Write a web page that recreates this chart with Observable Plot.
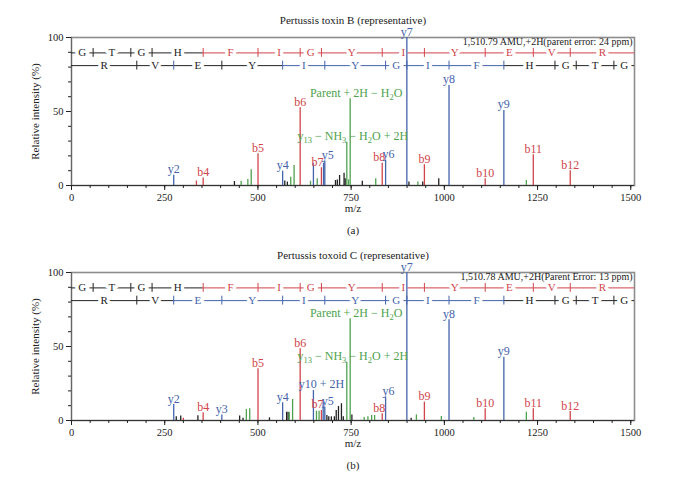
<!DOCTYPE html>
<html><head><meta charset="utf-8">
<script src="https://cdn.jsdelivr.net/npm/d3@7"></script>
<script src="https://cdn.jsdelivr.net/npm/@observablehq/plot@0.6"></script>
<style>
body{margin:0;background:#fff;width:682px;height:478px;overflow:hidden}
#chart svg{display:block}
</style></head><body><div id="chart"></div>
<script>
// ---------- data ----------
const sequence = ["G","T","G","H","F","I","G","Y","I","Y","E","V","R"];
const bIonMz = [58.03,159.08,216.10,353.16,500.22,613.31,670.33,833.39,946.48,1109.54,1238.58,1337.65];
const yIonMz = [175.12,274.19,403.23,566.30,679.38,842.44,899.46,1012.55,1159.62,1296.68,1353.70,1454.75];
const xTicks = [0,250,500,750,1000,1250,1500];
const yTicks = [0,50,100];
const titles = ["Pertussis toxin B (representative)", "Pertussis toxoid C (representative)"];
const precursors = ["1,510.79 AMU,+2H(parent error: 24 ppm)", "1,510.78 AMU,+2H(Parent Error: 13 ppm)"];
const panelTags = ["(a)", "(b)"];

// panel (a): type b = b ion, y = y ion, o = other assigned, n = unassigned
const aMz = [274.19,335.1,353.16,437,455,473,482,500.22,566.30,572,579,588,597,613.31,641,648.84,659,670.33,676,679.38,708,713,719,731,734,738.4,743,747.4,780,816,833.39,842.44,899.46,905,929,942,946.48,985,1012.55,1109.54,1159.62,1220,1238.58,1337.65];
const aIntensity = [7,3,5,2.7,2.9,4,10.6,21.4,9.7,3,2.3,5.6,13.5,52.5,2.9,15,4.5,12,15,16.4,3.4,3.8,6.8,8.3,4.5,29.3,3.8,58.6,2.9,4.5,15,17,100,2.3,2.3,2.3,14,4.5,67.6,4.5,50.7,3.4,20.7,10];
const aType = ["y","b","b","n","o","o","o","b","y","n","n","o","o","b","o","y","o","b","y","y","n","n","n","n","n","o","o","o","n","o","b","y","y","n","o","n","b","n","y","b","y","o","b","b"];
const aLabel = ["y2","","b4","","","","","b5","y4","","","","","b6","","","","b7","","y5","","","","","","y_13 − NH_3 − H_2O + 2H","","Parent + 2H − H_2O","","","b8","y6","y7","","","","b9","","y8","b10","y9","","b11","b12"];

// panel (b)
const bMz = [274.19,281,293,300,339,353.16,403.23,451,460,469,478,500.22,531,566.30,577,581,584,593,613.31,648.84,657,664,670.33,675,679.38,685,690,697,705,710,716,724,729,738.4,747.4,752,785,795,805,813,833.39,842.44,899.46,911,925,946.48,992,1012.55,1079,1109.54,1159.62,1220,1238.58,1337.65];
const bIntensity = [10.8,2.5,3,1.5,3.2,5.2,3.8,3,1.5,7.4,7.9,35,1.8,12,5.6,5.6,5.4,14.2,48.4,20.3,6.3,6.3,6.8,12.4,9,3.4,2.5,2.5,2.5,6.8,9.5,11.3,2.5,39.4,68.7,3.8,2,2.5,3.4,3.4,4.5,15.8,100,1.6,3.8,12.4,2.7,68,2,7.9,42.8,5.6,7.9,6];
const bType = ["y","n","n","b","n","b","y","n","n","o","o","b","n","y","n","n","o","o","b","y","o","o","b","y","y","n","n","n","n","n","n","n","n","o","o","n","o","o","o","o","b","y","y","n","o","b","o","y","o","b","y","o","b","b"];
const bLabel = ["y2","","","","","b4","y3","","","","","b5","","y4","","","","","b6","y10 + 2H","","","b7","","y5","","","","","","","","","y_13 − NH_3 − H_2O + 2H","Parent + 2H − H_2O","","","","","","b8","y6","y7","","","b9","","y8","","b10","y9","","b11","b12"];

// ---------- drawing ----------
const RED = "#d0444a", BLUE = "#4463ab", GREEN = "#4ea24e", BLACK = "#222";
const FONT = "Liberation Serif";
const labelShift = {"b8": -3, "y6": 3, "b7": -4, "y5": 3, "y10 + 2H": 8, "y_13 − NH_3 − H_2O + 2H": 6, "Parent + 2H − H_2O": 6};

function rowData(boundaries, observed, kind, residues, y) {
  const edges = [0, ...boundaries, 1510];
  const obs = new Set([...observed, 1510]);
  const segs = residues.map((r, i) => ({
    x1: edges[i], x2: edges[i + 1], y, res: r,
    k: (obs.has(edges[i]) && obs.has(edges[i + 1])) ? kind : "n"
  }));
  const ticks = boundaries.map(m => ({mz: m, y, k: observed.includes(m) ? kind : "n"}));
  return {segs, ticks};
}

function panel(i, mz, inten, type, label) {
  const peaks = mz.map((m, j) => ({mz: m, int: inten[j], type: type[j], label: label[j]}));
  const labelled = peaks.filter(d => d.label);
  const obsB = bIonMz.filter((m, j) => labelled.some(d => d.label === "b" + (j + 1)));
  const obsY = yIonMz.filter((m, j) => labelled.some(d => d.label === "y" + (j + 1)));
  const top = rowData(bIonMz, obsB, "b", sequence, 89.6);
  const bot = rowData(yIonMz, obsY, "y", [...sequence].reverse(), 81.0);
  const rows = [top, bot];
  const marks = [
    Plot.frame({stroke: "#8c8c8c", strokeWidth: 1.6}),
    Plot.ruleY([0], {stroke: "#333"}),
    Plot.ruleX([0], {stroke: "#666"}),
    Plot.axisX({ticks: d3.range(0, 1501, 50), tickSize: 3, tickFormat: () => "", label: null}),
    Plot.axisX({ticks: xTicks, tickSize: 5, tickPadding: 3, tickFormat: d => String(d), label: null, fontSize: 10.5}),
    Plot.axisY({ticks: d3.range(0, 101, 10), tickSize: 3, tickFormat: () => "", label: null}),
    Plot.axisY({ticks: yTicks, tickSize: 5, tickPadding: 3, tickFormat: d => String(d), label: null, fontSize: 10.5}),
    Plot.text([titles[i]], {frameAnchor: "top", dy: -21, fontSize: 11}),
    Plot.text(["m/z"], {frameAnchor: "bottom", dy: 26.5, fontSize: 11}),
    Plot.text([panelTags[i]], {frameAnchor: "bottom", dy: 48, fontSize: 11}),
    Plot.text(["Relative intensity (%)"], {frameAnchor: "left", dx: -36, rotate: -90, textAnchor: "middle", fontSize: 11})
  ];
  for (const r of rows) {
    marks.push(Plot.ruleY(r.segs, {y: "y", x1: "x1", x2: "x2", stroke: "k", strokeWidth: 1}));
    marks.push(Plot.ruleX(r.ticks, {x: "mz", y1: d => d.y - 3, y2: d => d.y + 3, stroke: "k", strokeWidth: 1}));
    marks.push(Plot.text(r.segs, {x: d => (d.x1 + d.x2) / 2, y: "y", text: "res", fill: "k", stroke: "white", strokeWidth: 7, fontSize: 11}));
  }
  marks.push(Plot.text([precursors[i]], {frameAnchor: "top-right", dx: -2, dy: 0.5, textAnchor: "end", fontSize: 10, fill: BLACK}));
  marks.push(Plot.ruleX(peaks, {x: "mz", y1: 0, y2: "int", stroke: "type", strokeWidth: 1.3}));
  for (const d of labelled) {
    marks.push(Plot.text([d], {x: "mz", y: "int", text: "label", fill: "type", lineAnchor: "bottom", dy: -2, dx: labelShift[d.label] || 0, fontSize: 12}));
  }
  const svg = Plot.plot({
    width: 682, height: 235,
    marginTop: 37, marginBottom: 50, marginLeft: 71, marginRight: 48,
    x: {domain: [0, 1510]},
    y: {domain: [0, 100]},
    color: {domain: ["b", "y", "o", "n"], range: [RED, BLUE, GREEN, BLACK]},
    style: {fontFamily: FONT, background: "white", color: BLACK, overflow: "visible"},
    marks
  });
  // render "_n" as subscripts
  svg.querySelectorAll("text").forEach(t => {
    const s = t.textContent;
    if (!s.includes("_")) return;
    while (t.firstChild) t.removeChild(t.firstChild);
    const parts = s.split(/(_\d+)/).filter(p => p);
    const NS = "http://www.w3.org/2000/svg";
    let shifted = false;
    for (const p of parts) {
      const ts = document.createElementNS(NS, "tspan");
      if (p.startsWith("_")) {
        ts.textContent = p.slice(1);
        ts.setAttribute("font-size", "8.5");
        ts.setAttribute("dy", "3");
        shifted = true;
      } else {
        ts.textContent = p;
        if (shifted) { ts.setAttribute("dy", "-3"); shifted = false; }
      }
      t.appendChild(ts);
    }
  });
  return svg;
}

const root = document.getElementById("chart");
root.appendChild(panel(0, aMz, aIntensity, aType, aLabel));
root.appendChild(panel(1, bMz, bIntensity, bType, bLabel));
</script></body></html>
